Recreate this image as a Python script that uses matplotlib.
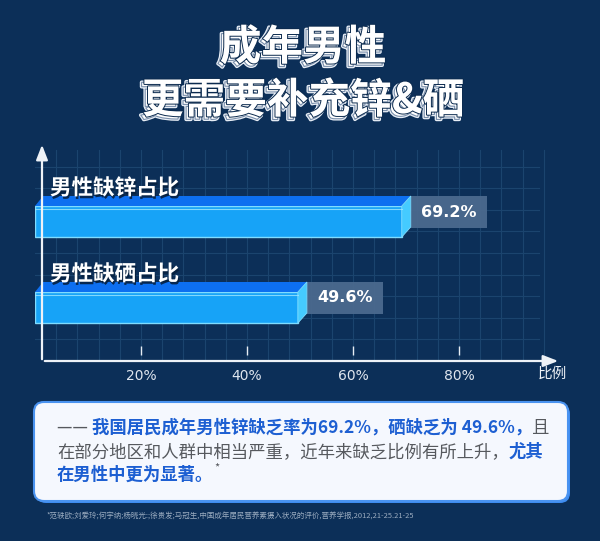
import matplotlib
matplotlib.use("Agg")
import matplotlib.pyplot as plt
import matplotlib.patheffects as pe
from matplotlib.patches import Polygon, Rectangle, FancyBboxPatch
import numpy as np

plt.rcParams['font.family'] = ['Noto Sans CJK SC', 'DejaVu Sans']

# ---------------- data ----------------
categories = ["男性缺硒占比", "男性缺锌占比"]
values = [49.6, 69.2]
value_labels = ["49.6%", "69.2%"]
xticks = [20, 40, 60, 80]
xtick_labels = ["20%", "40%", "60%", "80%"]
title_lines = ["成年男性", "更需要补充锌&硒"]
x_axis_name = "比例"
footnote = "*范轶欧;刘爱玲;何宇纳;杨晓光:;徐贵发;马冠生,中国成年居民营养素摄入状况的评价,营养学报,2012,21-25.21-25"

# ---------------- style ----------------
W, H, DPI = 600, 541, 100
BG = "#0c2f58"
GRID = "#1b446e"
FRONT = "#17a3f7"
TOP = "#0d6ff0"
SIDE = "#45cbff"
EDGE = "#7fdcff"
LABELBOX = "#4b6a8e"
BLUE = "#1d5fd2"
GRAY = "#56595e"

fig = plt.figure(figsize=(W / DPI, H / DPI), dpi=DPI)
fig.patch.set_facecolor(BG)

# pixel-space overlay for decorative elements
ov = fig.add_axes([0, 0, 1, 1], zorder=0)
ov.set_xlim(0, W)
ov.set_ylim(H, 0)
ov.axis("off")
ov.patch.set_alpha(0)

# chart axes: 0% at px 35, axis from px 35..560 horizontally, 143..361 vertically
px_left, px_right = 35, 560
px_top, px_bottom = 143, 361
ppu = 5.3  # pixels per percent
ax = fig.add_axes([px_left / W, 1 - px_bottom / H, (px_right - px_left) / W, (px_bottom - px_top) / H], zorder=1)
ax.set_facecolor("none")
ax.set_xlim(0, (px_right - px_left) / ppu)
upx = 86.0
y0_px = 307.5
ax.set_ylim(-(px_bottom - y0_px) / upx, (y0_px - px_top) / upx)
for s in ax.spines.values():
    s.set_visible(False)

# grid
gx = np.arange(4, 100, 4)
for g in gx:
    ax.axvline(g, color=GRID, lw=0.8, zorder=0, ymin=0.0, ymax=0.97)
ylo, yhi = ax.get_ylim()
gy = ylo + np.arange(1, 10) * (21.6 / upx)
for g in gy:
    ax.axhline(g, color=GRID, lw=0.8, zorder=0, xmin=0, xmax=0.96)

# bars
bh = 31 / upx
dx = 9 / ppu
dy = 10 / upx
ypos = np.arange(len(categories))
ax.barh(ypos, values, height=bh, left=0, color=FRONT, edgecolor=EDGE, linewidth=1.0, zorder=3)
for y, v, lab, cat in zip(ypos, values, value_labels, categories):
    top = y + bh / 2
    bot = y - bh / 2
    ax.add_patch(Polygon([[0, top], [v, top], [v + dx, top + dy], [dx * 0.9, top + dy]],
                         closed=True, facecolor=TOP, edgecolor="none", zorder=3))
    ax.add_patch(Polygon([[v, top], [v + dx, top + dy], [v + dx, bot + dy], [v, bot]],
                         closed=True, facecolor=SIDE, edgecolor=EDGE, lw=0.6, zorder=3))
    ax.plot([0, v], [top - 2.5 / upx, top - 2.5 / upx], color="#9fe6ff", lw=0.8, alpha=0.8, zorder=4)
    bx0 = v + dx
    bw = 76 / ppu
    bhh = 32 / upx
    ax.add_patch(Rectangle((bx0, top + dy - bhh), bw, bhh, facecolor=LABELBOX, edgecolor="none",
                           alpha=0.95, zorder=2))
    ax.text(bx0 + bw / 2, top + dy - bhh / 2, lab, ha="center", va="center", color="white",
            fontsize=11.5, fontweight="bold", family="DejaVu Sans", zorder=5)
    ax.text(15 / ppu, y + 33.5 / upx, cat, ha="left", va="center", color="white", fontsize=15.5,
            fontweight="heavy", zorder=5,
            path_effects=[pe.withSimplePatchShadow(offset=(0.8, -1.8), shadow_rgbFace="#06203e", alpha=0.9)])

# ticks
ax.set_yticks([])
ax.set_xticks(xticks)
ax.set_xticklabels(xtick_labels, color="#dfe6ef", fontsize=10, family="DejaVu Sans")
ax.tick_params(axis="x", length=0, pad=6)
ax.vlines(xticks, 6 / (px_bottom - px_top), 15 / (px_bottom - px_top), transform=ax.get_xaxis_transform(),
          color="#e6ecf3", lw=1.0, zorder=2)

# axis lines with arrows
axl = fig.add_axes([0, 0, 1, 1], zorder=2)
axl.set_xlim(0, W)
axl.set_ylim(H, 0)
axl.axis("off")
axl.patch.set_alpha(0)
axl.annotate("", xy=(561, 361), xytext=(42, 361),
             arrowprops=dict(arrowstyle="-|>,head_length=0.9,head_width=0.35", color="#eef2f7", lw=1.6))
axl.annotate("", xy=(42, 142), xytext=(42, 362),
             arrowprops=dict(arrowstyle="-|>,head_length=0.9,head_width=0.35", color="#eef2f7", lw=1.6))
axl.text(552, 374, x_axis_name, ha="center", va="center", color="#eef2f7", fontsize=10.5)

# title
title_fx = [pe.Stroke(offset=(-2, -2), linewidth=2.6, foreground="#e8eef6"),
            pe.Stroke(offset=(-2, -2), linewidth=0.8, foreground="#7a8fab"),
            pe.Stroke(linewidth=1.4, foreground="#0b2a4e"),
            pe.Normal()]
axl.text(303, 48, title_lines[0], ha="center", va="center", color="white", fontsize=30,
         fontweight="heavy", path_effects=title_fx)
axl.text(303, 101, title_lines[1], ha="center", va="center", color="white", fontsize=30,
         fontweight="heavy", path_effects=title_fx)

# text box
ov.add_patch(FancyBboxPatch((36, 404), 534, 99, boxstyle="round,pad=0,rounding_size=10",
                            facecolor="#3d8cf2", edgecolor="none", zorder=1))
ov.add_patch(FancyBboxPatch((34, 402), 534, 99, boxstyle="round,pad=0,rounding_size=10",
                            facecolor="#f5f8fe", edgecolor="#4a93f0", lw=1.5, zorder=2))

lines = [
    [("—— ", GRAY, "normal"), ("我国居民成年男性锌缺乏率为69.2%，硒缺乏为 49.6%，", BLUE, "bold"), ("且", GRAY, "normal")],
    [("在部分地区和人群中相当严重，近年来缺乏比例有所上升，", GRAY, "normal"), ("尤其", BLUE, "bold")],
    [("在男性中更为显著。", BLUE, "bold")],
]
line_y = [428, 452, 475]
fig.canvas.draw()
renderer = fig.canvas.get_renderer()
for i, (segs, ly) in enumerate(zip(lines, line_y)):
    xcur = 57
    for txt, col, wt in segs:
        t = axl.text(xcur, ly, txt, ha="left", va="center", color=col, fontsize=12.5, fontweight=wt)
        bb = t.get_window_extent(renderer)
        xcur += bb.width
    if i == 2:
        axl.text(xcur + 1, ly - 7, "*", ha="left", va="center", color=GRAY, fontsize=8)

axl.text(47, 517, footnote, ha="left", va="center", color="#9aabbf", fontsize=5.4)

fig.savefig("out.png", dpi=DPI, facecolor=BG)
